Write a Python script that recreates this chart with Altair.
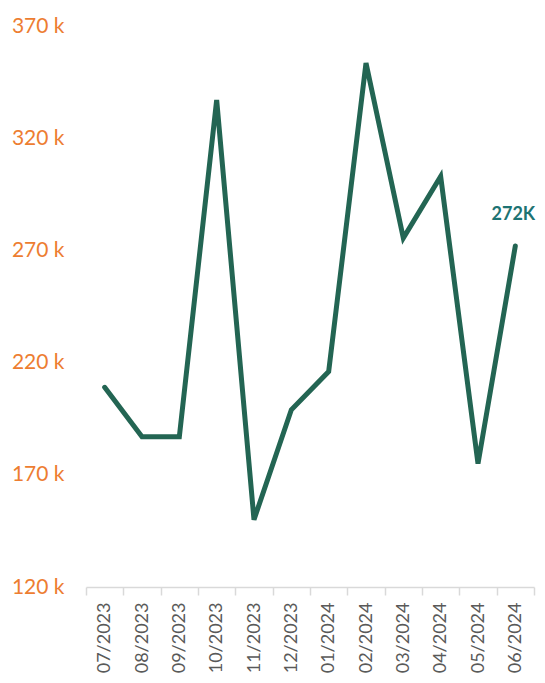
import altair as alt
import pandas as pd

months = ["07/2023", "08/2023", "09/2023", "10/2023", "11/2023", "12/2023",
          "01/2024", "02/2024", "03/2024", "04/2024", "05/2024", "06/2024"]
values = [209000, 187000, 187000, 337000, 150000, 199000,
          216000, 353500, 275500, 303000, 175000, 272000]
last_label = "272K"

df = pd.DataFrame({"month": months, "value": values})
df_last = df.tail(1).assign(label=last_label)

FONT = "Lato"

x = alt.X("month:O", sort=months, title=None,
          scale=alt.Scale(type="band", paddingInner=0, paddingOuter=0),
          bandPosition=0.5,
          axis=alt.Axis(tickBand="extent", labelAngle=-90, labelAlign="right",
                        labelBaseline="middle", labelFont=FONT, labelFontSize=18,
                        labelColor="#595959", domainColor="#d9d9d9", tickColor="#d9d9d9",
                        tickSize=8, domainWidth=1.5, tickWidth=1.5, labelPadding=7,
                        labelOverlap=False))
y = alt.Y("value:Q", title=None,
          scale=alt.Scale(domain=[120000, 370000], nice=False, zero=False),
          axis=alt.Axis(values=[120000, 170000, 220000, 270000, 320000, 370000],
                        labelExpr="datum.value/1000 + ' k'", labelFont=FONT,
                        labelFontSize=21, labelColor="#ED7D31", grid=False,
                        domain=False, ticks=False, labelPadding=22))

line = alt.Chart(df).mark_line(color="#236553", strokeWidth=5, strokeCap="round",
                               strokeJoin="miter").encode(x=x, y=y)
text = alt.Chart(df_last).mark_text(font=FONT, fontSize=18, fontWeight="bold",
                                    color="#1d7373", dy=-31, dx=-2).encode(
    x=x, y=y, text="label:N")

chart = (line + text).properties(
    width=448, height=561,
    autosize=alt.AutoSizeParams(type="none"),
    padding={"left": 78, "top": 18, "right": 3, "bottom": 88},
).configure_view(stroke=None)

chart.save("out.html", embed_options={"renderer": "svg", "actions": False})
